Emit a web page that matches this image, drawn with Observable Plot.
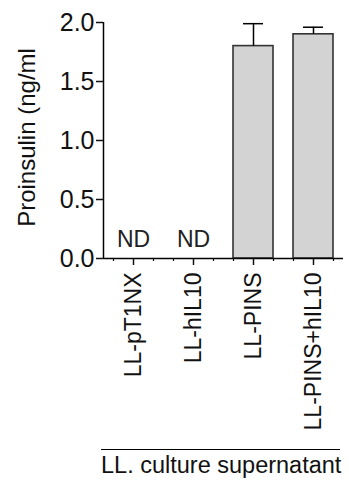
<!DOCTYPE html>
<html>
<head>
<meta charset="utf-8">
<script src="https://cdn.jsdelivr.net/npm/d3@7"></script>
<script src="https://cdn.jsdelivr.net/npm/@observablehq/plot@0.6"></script>
<style>
  html, body { margin: 0; padding: 0; background: #fff; }
  #wrap { position: relative; width: 349px; height: 482px; font-family: "Liberation Sans", Arial, sans-serif; }
  #caption { position: absolute; left: 101px; top: 449px; width: 239px; border-top: 1.5px solid #000; font-size: 23.5px; line-height: 23px; padding-top: 4px; color: #111; white-space: nowrap; }
</style>
</head>
<body>
<div id="wrap"><div id="chart"></div><div id="caption">LL. culture supernatant</div></div>
<script>
const categories = ["LL-pT1NX", "LL-hIL10", "LL-PINS", "LL-PINS+hIL10"];
const values = [0, 0, 1.80, 1.90];
const errors = [0, 0, 0.19, 0.06];
const detected = [false, false, true, true];
const yTicks = [0, 0.5, 1.0, 1.5, 2.0];
const yTitle = "Proinsulin (ng/ml";
const ndLabel = "ND";

const data = categories.map((c, i) => ({cat: c, value: values[i], err: errors[i], top: values[i] + errors[i], detected: detected[i]}));
const shown = data.filter(d => d.detected);
const notDetected = data.filter(d => !d.detected);

const chart = Plot.plot({
  width: 349,
  height: 440,
  marginLeft: 103,
  marginRight: 6,
  marginTop: 22,
  marginBottom: 182,
  style: {fontFamily: "Liberation Sans, Arial, sans-serif", fontSize: "23px", color: "#111", background: "#fff"},
  x: {domain: categories, padding: 0, label: null},
  y: {domain: [0, 2], label: null},
  marks: [
    Plot.barY(shown, {x: "cat", y: "value", fill: "#d3d3d3", stroke: "#333", strokeWidth: 1.6, insetLeft: 10, insetRight: 10}),
    Plot.ruleX(shown, {x: "cat", y1: "value", y2: "top", stroke: "#000", strokeWidth: 1.5}),
    Plot.tickY(shown, {x: "cat", y: "top", stroke: "#000", strokeWidth: 1.5, insetLeft: 20, insetRight: 20}),
    Plot.text(notDetected, {x: "cat", y: 0, text: () => ndLabel, dy: -19, fontSize: 23, fill: "#222"}),
    Plot.ruleX(categories, {x: d => d, y1: 0, y2: 0, dx: -20, insetBottom: -3, stroke: "#000", strokeWidth: 1.2}),
    Plot.ruleX(categories, {x: d => d, y1: 0, y2: 0, dx: 20, insetBottom: -3, stroke: "#000", strokeWidth: 1.2}),
    Plot.ruleY([0], {stroke: "#000", strokeWidth: 1.5}),
    Plot.ruleX([categories[0]], {x: d => d, y1: 0, y2: 2, dx: -30, stroke: "#000", strokeWidth: 1.5}),
    Plot.axisY({ticks: yTicks, tickFormat: d3.format(".1f"), tickSize: 7, tickPadding: 2, strokeWidth: 1.5, label: null, fill: "#111", fontSize: 25}),
    Plot.axisX({tickRotate: -90, tickSize: 7, tickPadding: 7, strokeWidth: 1.5, label: null, fill: "#111"}),
    Plot.text([yTitle], {frameAnchor: "left", textAnchor: "middle", text: d => d, rotate: -90, dx: -76, dy: -3, fontSize: 24, fill: "#111"})
  ]
});
document.getElementById("chart").appendChild(chart);
</script>
</body>
</html>
